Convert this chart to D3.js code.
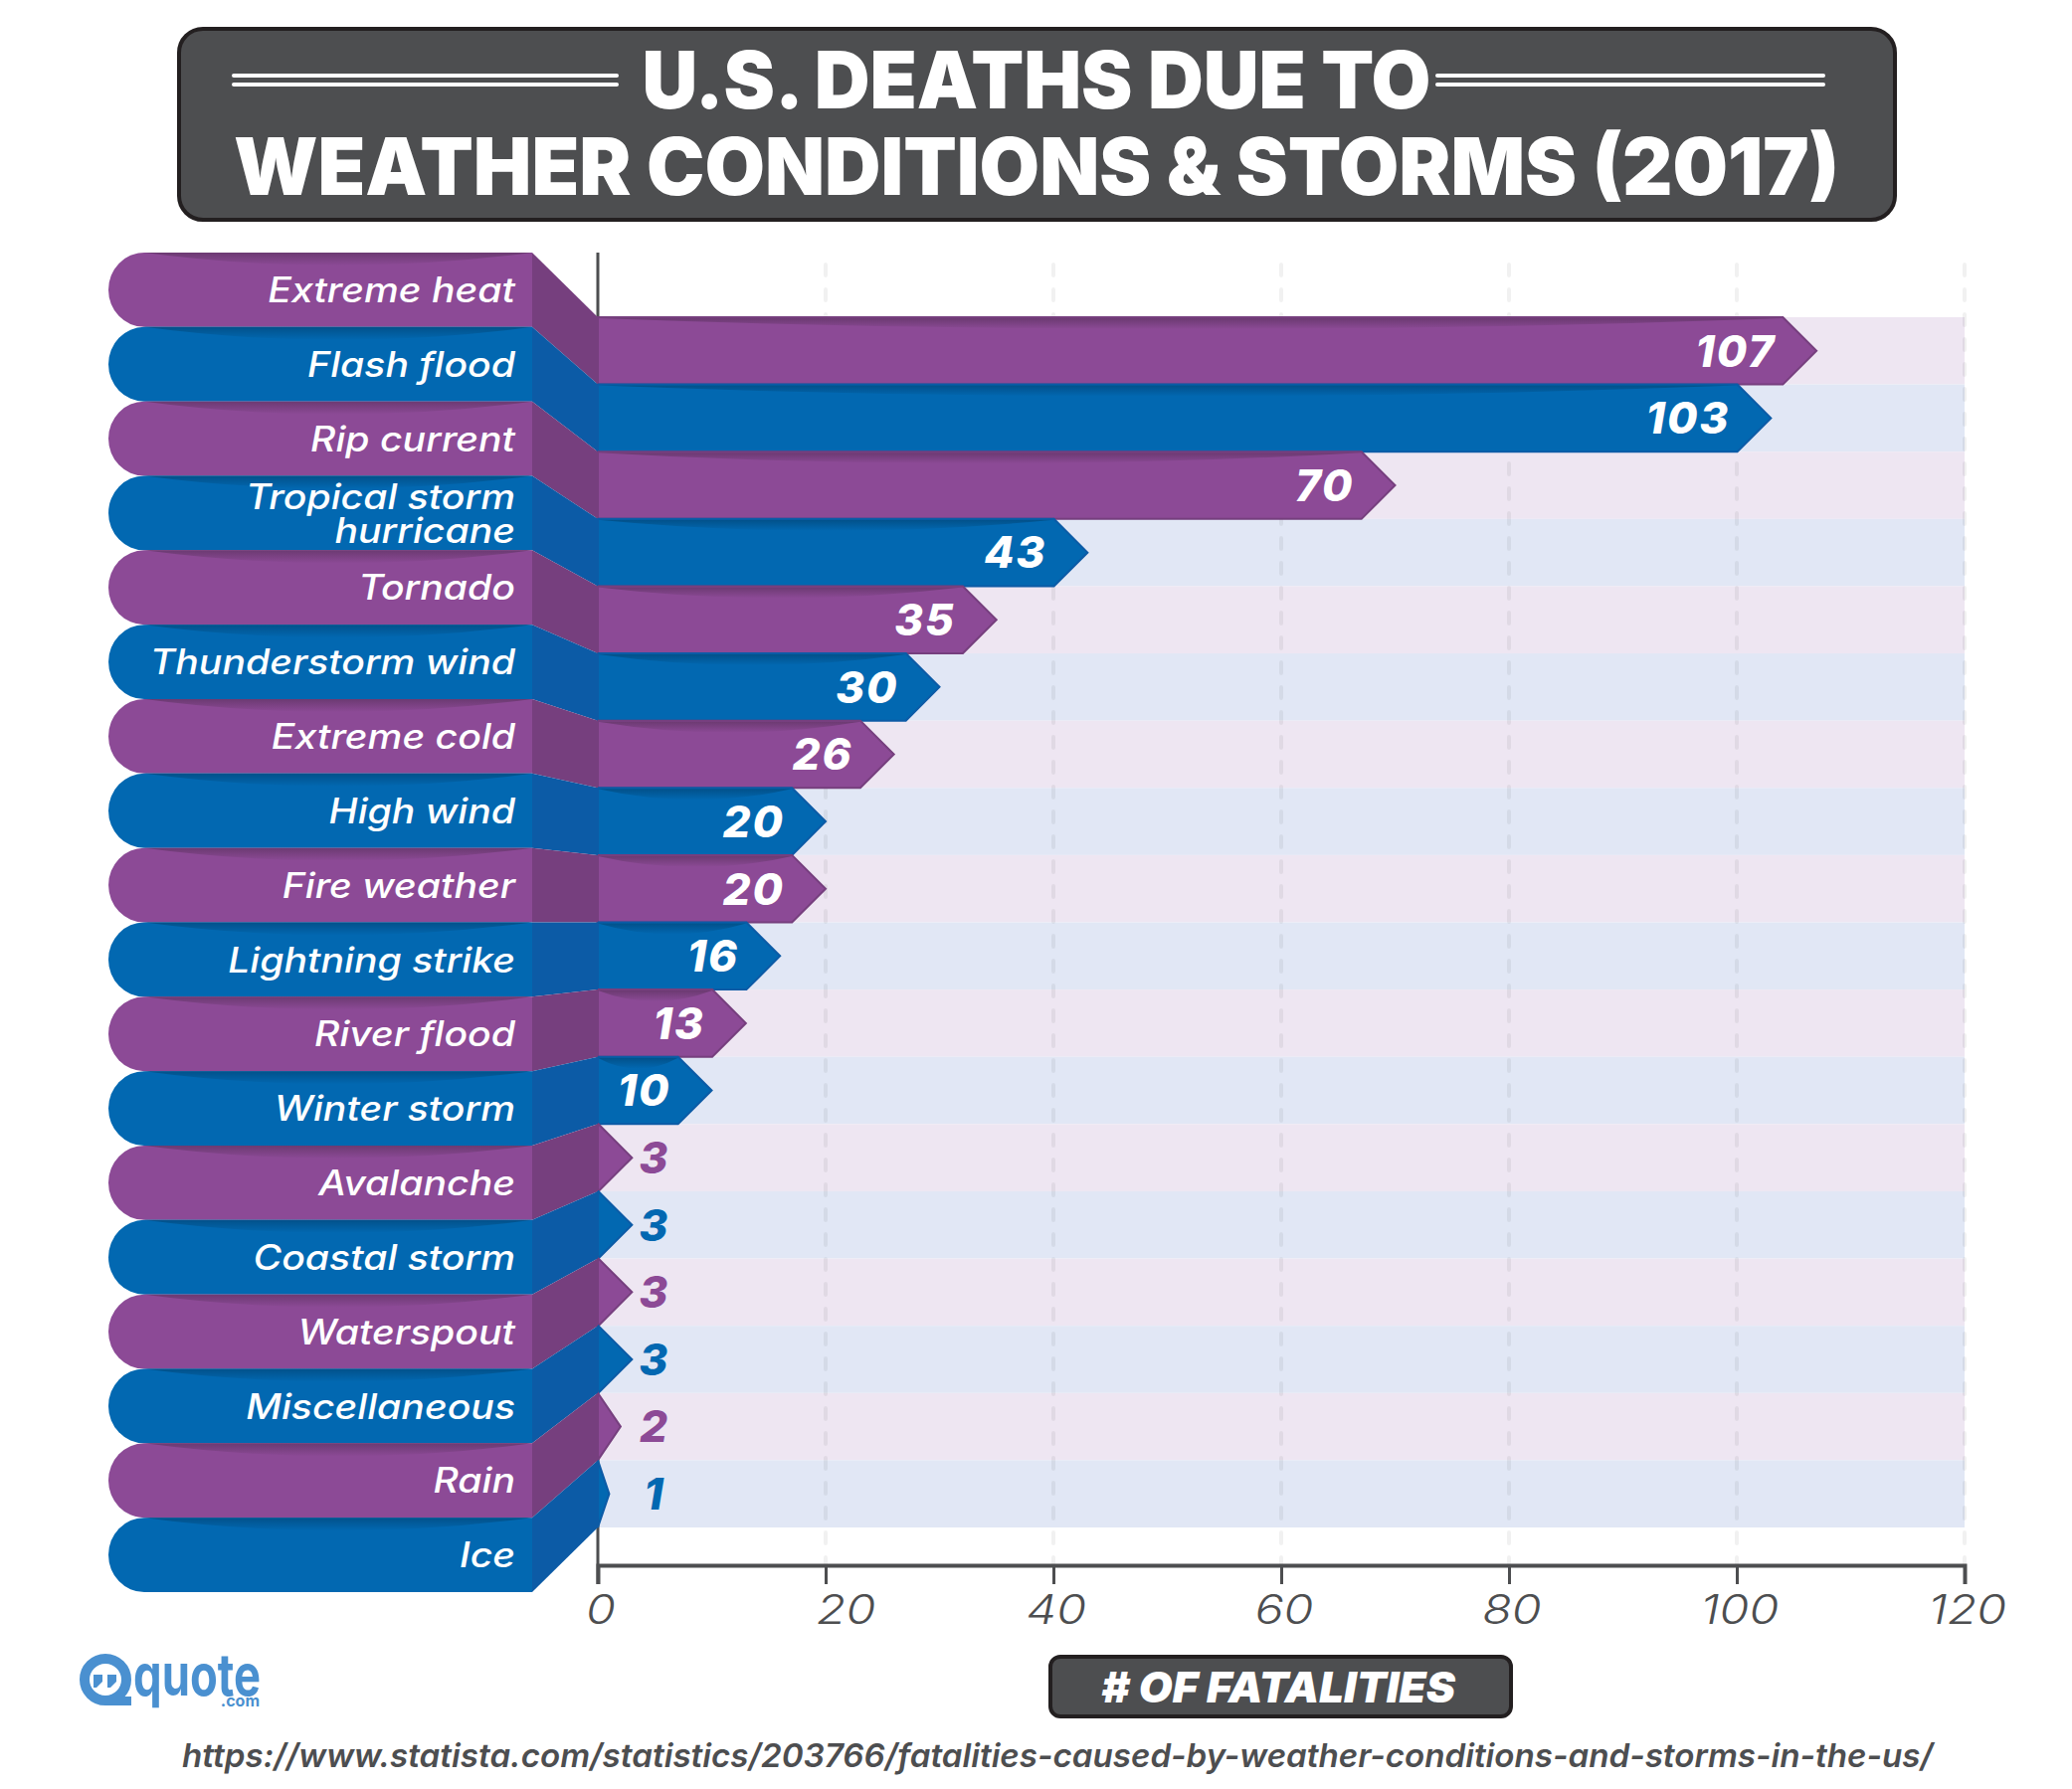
<!DOCTYPE html>
<html>
<head>
<meta charset="utf-8">
<title>U.S. Deaths Due To Weather Conditions & Storms (2017)</title>
<script src="https://cdnjs.cloudflare.com/ajax/libs/d3/7.8.5/d3.min.js"></script>
<style>
  html, body { margin: 0; padding: 0; background: #fff; }
  svg { display: block; }
  text { font-family: Inter, "Open Sans", sans-serif; }
</style>
</head>
<body>
<div id="chart"></div>
<script>
'use strict';

var categories = ['Extreme heat', 'Flash flood', 'Rip current', 'Tropical storm|hurricane', 'Tornado',
  'Thunderstorm wind', 'Extreme cold', 'High wind', 'Fire weather', 'Lightning strike', 'River flood',
  'Winter storm', 'Avalanche', 'Coastal storm', 'Waterspout', 'Miscellaneous', 'Rain', 'Ice'];
var fatalities = [107, 103, 70, 43, 35, 30, 26, 20, 20, 16, 13, 10, 3, 3, 3, 3, 2, 1];
var xTicks = [0, 20, 40, 60, 80, 100, 120];
var titleLines = ['U.S. DEATHS DUE TO', 'WEATHER CONDITIONS & STORMS (2017)'];
var axisTitle = '# OF FATALITIES';
var sourceUrl = 'https://www.statista.com/statistics/203766/fatalities-caused-by-weather-conditions-and-storms-in-the-us/';

// purple rows first, then blue, alternating
var baseColors = ['#8c4a96', '#0268b1'];
var foldColors = ['#763f7e', '#0c5ba6'];
var shadeColors = ['#6c3a72', '#02518a'];
var bandColors = ['#eee6f2', '#e1e7f5'];
var inkColor = '#4d4e50';
var logoColor = '#4a90d0';

var svg = d3.select('#chart').append('svg').attr('width', 2083).attr('height', 1799);

var x = d3.scaleLinear().domain([0, 120]).range([601, 1975]);
var rowY = d3.scaleBand().domain(categories).range([319, 1536]);
var pillY = d3.scaleBand().domain(categories).range([254, 1601]);
var pillLeft = 109, pillRight = 535, notch = 33.8;
var poly = d3.line();

var rows = categories.map(function(c, i) {
  return { name: c, value: fatalities[i], k: i % 2 };
});

// vertical gradients for the soft shadow under each fold
var defs = svg.append('defs');
baseColors.forEach(function(c, k) {
  var g = defs.append('linearGradient').attr('id', 'shade' + k)
    .attr('x1', 0).attr('y1', 0).attr('x2', 0).attr('y2', 1);
  g.append('stop').attr('offset', 0).attr('stop-color', shadeColors[k]);
  g.append('stop').attr('offset', 1).attr('stop-color', c);
});

// lens shaped shadow hanging from a flat top edge
function lens(x0, x1, y, sag) {
  return 'M' + x0 + ',' + y + 'Q' + (x0 + x1) / 2 + ',' + (y + sag * 2) + ' ' + x1 + ',' + y + 'Z';
}

// background stripes
svg.append('g').selectAll('rect').data(rows).enter().append('rect')
  .attr('x', x(0))
  .attr('y', function(d) { return rowY(d.name); })
  .attr('width', x(120) - x(0))
  .attr('height', rowY.bandwidth())
  .attr('fill', function(d) { return bandColors[d.k]; });

// dashed gridlines
svg.append('g').selectAll('line').data(xTicks.slice(1)).enter().append('line')
  .attr('x1', x).attr('x2', x)
  .attr('y1', 266).attr('y2', 1574)
  .attr('stroke', '#000').attr('stroke-opacity', 0.055)
  .attr('stroke-width', 4)
  .attr('stroke-linecap', 'round')
  .attr('stroke-dasharray', '11 14');

// axes
var axis = svg.append('g').attr('transform', 'translate(0,1574)')
  .call(d3.axisBottom(x).tickValues(xTicks).tickSize(19).tickPadding(11));
axis.select('.domain').attr('stroke', inkColor).attr('stroke-width', 4);
axis.selectAll('.tick line').attr('stroke', inkColor).attr('stroke-width', 3);
// the 20 label sits off its tick in the original
axis.selectAll('.tick text')
  .attr('dx', function(d) { return d === 20 ? 17 : 2; })
  .attr('transform', 'scale(1.18,1)')
  .attr('fill', inkColor)
  .attr('font-size', 41)
  .attr('font-weight', 300)
  .attr('font-style', 'italic');

svg.append('line')
  .attr('x1', x(0)).attr('x2', x(0))
  .attr('y1', 254).attr('y2', 1593)
  .attr('stroke', inkColor).attr('stroke-width', 3);

// arrow bars
var bars = svg.append('g').selectAll('g').data(rows).enter().append('g');
bars.append('path')
  .attr('d', function(d) {
    var t = rowY(d.name), b = t + rowY.bandwidth(), tip = x(d.value);
    var s = Math.max(x(0), tip - notch);
    return poly([[x(0), t], [s, t], [tip, (t + b) / 2], [s, b], [x(0), b]]) + 'Z';
  })
  .attr('fill', function(d) { return baseColors[d.k]; })
  .attr('stroke', function(d) { return foldColors[d.k]; })
  .attr('stroke-width', 2);

bars.filter(function(d) { return d.value > 3; }).append('path')
  .attr('d', function(d) { return lens(x(0), x(d.value) - notch, rowY(d.name) + 1, 11); })
  .attr('fill', function(d) { return 'url(#shade' + d.k + ')'; });

// value labels, white inside the bar or coloured beside a short one
bars.append('text')
  .attr('x', function(d) { return d.value > 3 ? x(d.value) - 41 : 657; })
  .attr('y', function(d) { return rowY(d.name) + rowY.bandwidth() / 2; })
  .attr('dy', '0.36em')
  .attr('text-anchor', function(d) { return d.value > 3 ? 'end' : 'middle'; })
  .attr('fill', function(d) { return d.value > 3 ? '#fff' : baseColors[d.k]; })
  .attr('font-size', 44)
  .attr('font-weight', 800)
  .attr('font-style', 'italic')
  .attr('letter-spacing', function(d) { return d.value > 3 ? 2 : 0; })
  .text(function(d) { return d.value; });

// ribbon labels on the left
var pills = svg.append('g').selectAll('g').data(rows).enter().append('g');
pills.append('path')
  .attr('d', function(d) {
    var t = pillY(d.name), b = t + pillY.bandwidth(), rx = 36, ry = pillY.bandwidth() / 2;
    return 'M' + pillRight + ',' + t + 'H' + (pillLeft + rx) +
      'A' + rx + ',' + ry + ' 0 0 0 ' + (pillLeft + rx) + ',' + b + 'H' + pillRight + 'Z';
  })
  .attr('fill', function(d) { return baseColors[d.k]; });

pills.append('path')
  .attr('d', function(d) { return lens(pillLeft + 36, pillRight, pillY(d.name), 13); })
  .attr('fill', function(d) { return 'url(#shade' + d.k + ')'; });

pills.append('path')
  .attr('d', function(d) {
    var pt = pillY(d.name), pb = pt + pillY.bandwidth();
    var bt = rowY(d.name), bb = bt + rowY.bandwidth();
    return poly([[pillRight, pt], [x(0), bt], [x(0), bb], [pillRight, pb]]) + 'Z';
  })
  .attr('fill', function(d) { return foldColors[d.k]; });

pills.each(function(d) {
  var lines = d.name.split('|');
  var cy = pillY(d.name) + pillY.bandwidth() / 2;
  d3.select(this).selectAll('text').data(lines).enter().append('text')
    .attr('transform', 'translate(518,0) scale(1.12,1)')
    .attr('y', function(l, i) { return cy + (i - (lines.length - 1) / 2) * 34; })
    .attr('dy', '0.36em')
    .attr('text-anchor', 'end')
    .attr('fill', '#fff')
    .attr('font-size', 35)
    .attr('font-weight', 500)
    .attr('font-style', 'italic')
    .text(function(l) { return l; });
});

// title box
var head = svg.append('g');
head.append('rect')
  .attr('x', 180).attr('y', 29).attr('width', 1725).attr('height', 192).attr('rx', 24)
  .attr('fill', inkColor).attr('stroke', '#231f20').attr('stroke-width', 4);
[[235, 620], [1445, 1833]].forEach(function(r) {
  [76, 85].forEach(function(y) {
    head.append('line')
      .attr('x1', r[0]).attr('x2', r[1]).attr('y1', y).attr('y2', y)
      .attr('stroke', '#fff').attr('stroke-width', 4).attr('stroke-linecap', 'round');
  });
});
head.selectAll('text').data(titleLines).enter().append('text')
  .attr('x', 1042)
  .attr('y', function(d, i) { return i ? 196 : 109; })
  .attr('text-anchor', 'middle')
  .attr('fill', '#fff')
  .attr('font-size', 80)
  .attr('font-weight', 900)
  .attr('textLength', function(d, i) { return i ? 1614 : 793; })
  .attr('lengthAdjust', 'spacingAndGlyphs')
  .text(function(d) { return d; });

// axis title box
svg.append('rect')
  .attr('x', 1056).attr('y', 1666).attr('width', 463).attr('height', 60).attr('rx', 10)
  .attr('fill', inkColor).attr('stroke', '#231f20').attr('stroke-width', 4);
svg.append('text')
  .attr('x', 1285).attr('y', 1712)
  .attr('text-anchor', 'middle')
  .attr('fill', '#fff')
  .attr('font-size', 42)
  .attr('font-weight', 900)
  .attr('font-style', 'italic')
  .attr('textLength', 356)
  .attr('lengthAdjust', 'spacingAndGlyphs')
  .text(axisTitle);

// source line
svg.append('text')
  .attr('x', 183).attr('y', 1777)
  .attr('fill', inkColor)
  .attr('font-size', 33)
  .attr('font-weight', 600)
  .attr('font-style', 'italic')
  .attr('textLength', 1760)
  .attr('lengthAdjust', 'spacingAndGlyphs')
  .text(sourceUrl);

// quote.com logo
var logo = svg.append('g').attr('fill', logoColor);
logo.append('circle')
  .attr('cx', 106).attr('cy', 1689).attr('r', 21)
  .attr('fill', 'none').attr('stroke', logoColor).attr('stroke-width', 10);
logo.append('path').attr('d', 'M106,1706H132V1715H106Z');
[94, 108].forEach(function(qx) {
  logo.append('path').attr('d', 'M' + qx + ',1684h9v7l-6,6h-3Z');
});
logo.append('text')
  .attr('x', 134).attr('y', 1705)
  .attr('font-family', 'Lato')
  .attr('font-size', 58)
  .attr('font-weight', 700)
  .attr('textLength', 128)
  .attr('lengthAdjust', 'spacingAndGlyphs')
  .text('quote');
logo.append('text')
  .attr('x', 261).attr('y', 1716)
  .attr('text-anchor', 'end')
  .attr('font-family', 'Lato')
  .attr('font-size', 16)
  .attr('font-weight', 700)
  .text('.com');
</script>
</body>
</html>
